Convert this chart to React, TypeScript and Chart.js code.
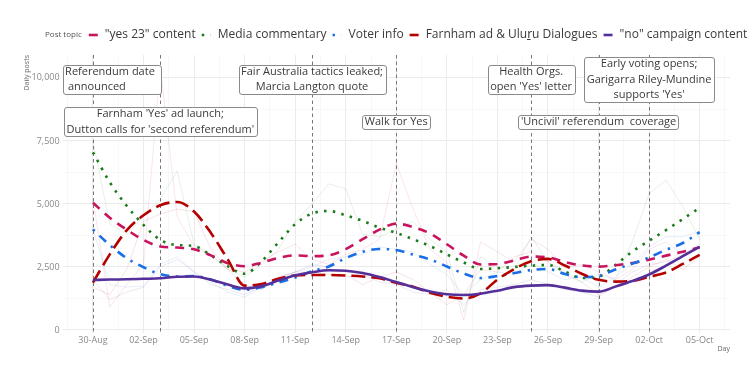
import { useEffect, useRef } from "react";
import { Chart, registerables } from "chart.js";

Chart.register(...registerables);

const FONT = "'Open Sans', 'Noto Sans', sans-serif";

// Categories: one per day, 30-Aug .. 05-Oct
const dates = [
  "30-Aug", "31-Aug", "01-Sep", "02-Sep", "03-Sep", "04-Sep", "05-Sep", "06-Sep", "07-Sep", "08-Sep",
  "09-Sep", "10-Sep", "11-Sep", "12-Sep", "13-Sep", "14-Sep", "15-Sep", "16-Sep", "17-Sep", "18-Sep",
  "19-Sep", "20-Sep", "21-Sep", "22-Sep", "23-Sep", "24-Sep", "25-Sep", "26-Sep", "27-Sep", "28-Sep",
  "29-Sep", "30-Sep", "01-Oct", "02-Oct", "03-Oct", "04-Oct", "05-Oct",
];

const xTickLabels = ["30-Aug", "02-Sep", "05-Sep", "08-Sep", "11-Sep", "14-Sep", "17-Sep", "20-Sep", "23-Sep", "26-Sep", "29-Sep", "02-Oct", "05-Oct"];
const yTickValues = [0, 2500, 5000, 7500, 10000];
const yTickLabels = ["0", "2,500", "5,000", "7,500", "10,000"];

const seriesNames = ['"yes 23" content', "Media commentary", "Voter info", "Farnham ad & Uluṟu Dialogues", '"no" campaign content'];
const seriesColors = ["#C8145C", "#187A18", "#1A6EE6", "#B50000", "#55309A"];

// Smoothed daily posts
const yes23Smooth = [5050, 4450, 3980, 3570, 3310, 3270, 3200, 2960, 2650, 2530, 2670, 2860, 2960, 2930, 2960, 3210, 3600, 3980, 4220, 4080, 3830, 3400, 2950, 2600, 2620, 2760, 2910, 2880, 2700, 2560, 2515, 2570, 2660, 2790, 2950, 3100, 3280];
const mediaSmooth = [7050, 5860, 4930, 4170, 3570, 3370, 3330, 2960, 2530, 2230, 2720, 3470, 4200, 4620, 4720, 4550, 4330, 4060, 3850, 3600, 3330, 3000, 2680, 2420, 2450, 2500, 2550, 2580, 2320, 2060, 2110, 2580, 3110, 3540, 3960, 4400, 4850];
const voterSmooth = [3990, 3370, 2850, 2490, 2210, 2120, 2140, 2000, 1750, 1590, 1700, 1880, 2080, 2330, 2520, 2850, 3100, 3210, 3170, 2990, 2800, 2520, 2240, 2060, 2140, 2260, 2380, 2420, 2220, 2100, 2140, 2400, 2630, 2880, 3180, 3450, 3880];
const farnhamSmooth = [1880, 3000, 3950, 4550, 4950, 5080, 4700, 3850, 2800, 1760, 1820, 2030, 2160, 2180, 2180, 2160, 2120, 2050, 1870, 1720, 1480, 1320, 1250, 1450, 2000, 2420, 2730, 2820, 2560, 2230, 1990, 1920, 1950, 2110, 2280, 2620, 2980];
const noSmooth = [1980, 2000, 2010, 2030, 2050, 2110, 2120, 1990, 1800, 1650, 1740, 1960, 2170, 2290, 2370, 2350, 2260, 2100, 1900, 1700, 1530, 1420, 1390, 1440, 1560, 1700, 1760, 1780, 1680, 1560, 1520, 1720, 1940, 2200, 2550, 2930, 3300];

// Raw daily posts (faint lines)
const yes23Daily = [5200, 900, 1800, 2600, 10400, 4500, 3300, 3000, 2400, 2300, 2700, 3100, 3400, 2800, 2600, 3000, 3200, 3600, 6600, 4800, 3200, 2700, 380, 3500, 3100, 2700, 3600, 3200, 2500, 2600, 2300, 2000, 2400, 3200, 3500, 3000, 3300];
const mediaDaily = [7500, 4200, 3800, 4500, 5200, 6300, 3400, 3000, 2400, 2100, 2600, 3200, 4300, 5000, 5800, 5600, 3800, 3700, 4000, 4300, 3600, 3100, 700, 2900, 2500, 2400, 3700, 2700, 2200, 1900, 2200, 2000, 3500, 5400, 5950, 4900, 3600];
const voterDaily = [4000, 1800, 1700, 1750, 2600, 2900, 2300, 1900, 1500, 1300, 1700, 2100, 2300, 2500, 2800, 2900, 3000, 3300, 3200, 3100, 2600, 2200, 1400, 2000, 2300, 2200, 2700, 2300, 2000, 2100, 1700, 2100, 2600, 3300, 3700, 3700, 3900];
const farnhamDaily = [1700, 1400, 2400, 4300, 4600, 4800, 4700, 3200, 2400, 1800, 1600, 2100, 2300, 2300, 2200, 2200, 1800, 2100, 2300, 2000, 1500, 1000, 1400, 2400, 2300, 2900, 3100, 2700, 2300, 1900, 1400, 1700, 2100, 2500, 2800, 2400, 2900];
const noDaily = [2000, 1200, 1500, 1700, 2500, 2800, 2300, 1800, 1600, 1400, 1700, 2000, 2300, 2600, 2500, 2100, 2200, 1900, 1800, 1500, 1400, 1600, 1000, 1600, 1700, 1800, 2000, 1800, 1600, 1500, 1300, 1800, 2300, 2600, 2700, 3000, 3400];

// Events (day index into dates), label text, label centre height
const eventDays = [0, 4, 13, 18, 26, 30, 33];
const eventTexts = [
  "Referendum date \n announced",
  "Farnham 'Yes' ad launch;\nDutton calls for 'second referendum'",
  "Fair Australia tactics leaked;\nMarcia Langton quote",
  "Walk for Yes",
  "Health Orgs.\nopen 'Yes' letter",
  "'Uncivil' referendum  coverage",
  "Early voting opens;\nGarigarra Riley-Mundine\nsupports 'Yes'",
];
const eventLabelY = [9950, 8260, 9950, 8260, 9950, 8260, 9950];
const eventAlign = ["left", "center", "center", "center", "center", "center", "center"];

const smoothSeries = [yes23Smooth, mediaSmooth, voterSmooth, farnhamSmooth, noSmooth];
const dailySeries = [yes23Daily, mediaDaily, voterDaily, farnhamDaily, noDaily];
const seriesDash = [[9, 7], [2.5, 6.3], [2.4, 6.5, 9, 6.5], [14, 6], []];
const drawOrder = [3, 4, 2, 1, 0];

function hexA(hex: string, a: number) {
  const n = parseInt(hex.slice(1), 16);
  return `rgba(${(n >> 16) & 255},${(n >> 8) & 255},${n & 255},${a})`;
}

const xGrid: number[] = [];
for (let v = -1.5; v <= 37.5 + 1e-9; v += 1.5) xGrid.push(v);
const yGrid: number[] = [];
for (let v = 0; v <= 10000; v += 1250) yGrid.push(v);

const isMult = (v: number, m: number) => Math.abs(v / m - Math.round(v / m)) < 1e-6;

const overlayPlugin = {
  id: "overlay",
  beforeDatasetsDraw(chart: any) {
    const { ctx, chartArea: a, scales } = chart;
    ctx.save();
    ctx.strokeStyle = "#777";
    ctx.lineWidth = 1;
    ctx.setLineDash([3.5, 3]);
    eventDays.forEach((d) => {
      const px = Math.round(scales.x.getPixelForValue(d)) + 0.5;
      ctx.beginPath();
      ctx.moveTo(px, a.top);
      ctx.lineTo(px, a.bottom);
      ctx.stroke();
    });
    ctx.restore();
  },
  afterDatasetsDraw(chart: any) {
    const { ctx, chartArea: a, scales } = chart;
    ctx.save();
    ctx.font = `11px ${FONT}`;
    const lh = 15.5;
    eventDays.forEach((d, i) => {
      const lines = eventTexts[i].split("\n");
      const w = Math.max(...lines.map((l) => ctx.measureText(l).width)) + 5;
      const h = (lines.length - 1) * lh + 13.5;
      const cx = scales.x.getPixelForValue(d);
      let left = cx - w / 2;
      if (left < a.left) left = a.left;
      if (left + w > a.right) left = a.right - w;
      const cy = scales.y.getPixelForValue(eventLabelY[i]);
      const top = cy - h / 2;
      ctx.beginPath();
      ctx.roundRect(Math.round(left) + 0.5, Math.round(top) + 0.5, Math.round(w), Math.round(h), 2.5);
      ctx.fillStyle = "#ffffff";
      ctx.fill();
      ctx.strokeStyle = "#8a8a8a";
      ctx.lineWidth = 1;
      ctx.setLineDash([]);
      ctx.stroke();
      ctx.fillStyle = "#3a3a3a";
      ctx.textBaseline = "middle";
      lines.forEach((l, j) => {
        const ty = top + 7 + j * lh;
        if (eventAlign[i] === "left") {
          ctx.textAlign = "left";
          ctx.fillText(l, left + 2.5, ty);
        } else {
          ctx.textAlign = "center";
          ctx.fillText(l, left + w / 2, ty);
        }
      });
    });
    ctx.restore();
  },
  afterDraw(chart: any) {
    const { ctx, chartArea: a } = chart;
    ctx.save();
    // Legend
    const cy = 35;
    let xp = 45;
    ctx.textBaseline = "middle";
    ctx.textAlign = "left";
    ctx.font = `8px ${FONT}`;
    ctx.fillStyle = "#555";
    ctx.fillText("Post topic", xp, cy);
    xp += ctx.measureText("Post topic").width + 7;
    ctx.font = `12px ${FONT}`;
    seriesNames.forEach((name, i) => {
      ctx.save();
      ctx.strokeStyle = seriesColors[i];
      ctx.lineWidth = 2.6;
      ctx.setLineDash(seriesDash[i]);
      ctx.beginPath();
      ctx.moveTo(xp, cy);
      ctx.lineTo(xp + 9, cy);
      ctx.stroke();
      ctx.restore();
      xp += 9 + 7;
      ctx.fillStyle = "#3a3a3a";
      ctx.fillText(name, xp, cy);
      xp += ctx.measureText(name).width + 6;
    });
    // Axis titles
    ctx.font = `7px ${FONT}`;
    ctx.fillStyle = "#666";
    ctx.textAlign = "right";
    ctx.textBaseline = "alphabetic";
    ctx.fillText("Day", a.right, 351);
    ctx.translate(29, a.top);
    ctx.rotate(-Math.PI / 2);
    ctx.textAlign = "right";
    ctx.fillText("Daily posts", 0, 0);
    ctx.restore();
  },
};

export default function App() {
  const ref = useRef<HTMLCanvasElement>(null);
  useEffect(() => {
    document.body.style.margin = "0";
    const canvas = ref.current!;
    const thin = dailySeries.map((arr, i) => ({
      label: seriesNames[i] + " daily",
      data: arr.map((v, d) => ({ x: d, y: v })),
      borderColor: hexA(seriesColors[i], 0.14),
      borderWidth: 0.8,
      pointRadius: 0,
      tension: 0,
      order: 20,
    }));
    const thick = smoothSeries.map((arr, i) => ({
      label: seriesNames[i],
      data: arr.map((v, d) => ({ x: d, y: v })),
      borderColor: seriesColors[i],
      borderWidth: 2.6,
      borderDash: seriesDash[i],
      borderCapStyle: "butt",
      pointRadius: 0,
      cubicInterpolationMode: "monotone",
      order: drawOrder[i],
    }));
    const chart = new Chart(canvas, {
      type: "line",
      data: { datasets: [...thin, ...thick] as any },
      options: {
        animation: false,
        responsive: false,
        devicePixelRatio: 1,
        events: [],
        layout: { padding: { top: 55, right: 24, bottom: 0, left: 0 } },
        plugins: { legend: { display: false }, tooltip: { enabled: false } },
        scales: {
          x: {
            type: "linear",
            min: -1.8,
            max: 37.8,
            afterBuildTicks: (s: any) => {
              s.ticks = xGrid.map((v) => ({ value: v }));
            },
            afterFit: (s: any) => {
              s.height = 44;
            },
            border: { display: false },
            grid: {
              drawTicks: false,
              color: (c: any) => (isMult(c.tick.value, 3) ? "#EBEBEB" : "#F5F5F5"),
              lineWidth: (c: any) => (isMult(c.tick.value, 3) ? 1 : 0.7),
            },
            ticks: {
              autoSkip: false,
              maxRotation: 0,
              padding: 2,
              color: "#888",
              font: { family: FONT, size: 9 },
              callback: (v: any) => {
                const n = Number(v);
                if (isMult(n, 3) && n >= 0 && n <= 36) return xTickLabels[Math.round(n / 3)];
                return "";
              },
            },
          },
          y: {
            type: "linear",
            min: -120,
            max: 10910,
            afterBuildTicks: (s: any) => {
              s.ticks = yGrid.map((v) => ({ value: v }));
            },
            afterFit: (s: any) => {
              s.width = 62.6;
            },
            border: { display: false },
            grid: {
              drawTicks: false,
              color: (c: any) => (isMult(c.tick.value, 2500) ? "#EBEBEB" : "#F5F5F5"),
              lineWidth: (c: any) => (isMult(c.tick.value, 2500) ? 1 : 0.7),
            },
            ticks: {
              padding: 3,
              color: "#888",
              font: { family: FONT, size: 9 },
              callback: (v: any) => {
                const idx = yTickValues.indexOf(Number(v));
                return idx >= 0 ? yTickLabels[idx] : "";
              },
            },
          },
        },
      },
      plugins: [overlayPlugin],
    });
    return () => chart.destroy();
  }, []);
  return (
    <div style={{ width: 754, height: 377, background: "#fff" }}>
      <canvas ref={ref} width={754} height={377} style={{ display: "block" }} />
    </div>
  );
}
